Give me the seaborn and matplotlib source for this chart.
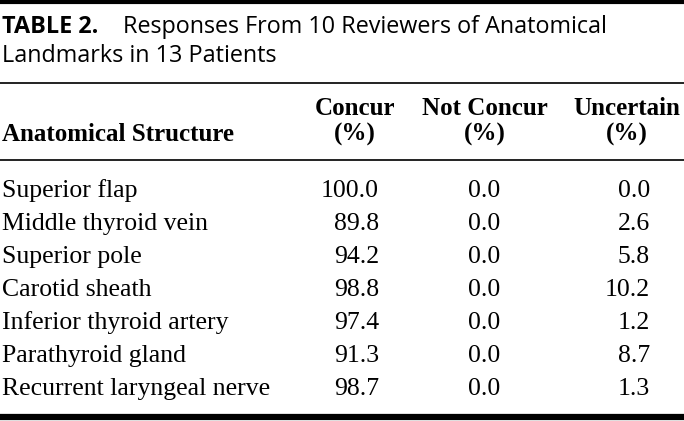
import matplotlib
matplotlib.use("Agg")
import matplotlib.pyplot as plt
import seaborn as sns

# table contents
title_label = "TABLE 2."
title_line1 = "Responses From 10 Reviewers of Anatomical"
title_line2 = "Landmarks in 13 Patients"

columns = ["Concur", "Not Concur", "Uncertain"]
structures = [
    "Superior flap",
    "Middle thyroid vein",
    "Superior pole",
    "Carotid sheath",
    "Inferior thyroid artery",
    "Parathyroid gland",
    "Recurrent laryngeal nerve",
]
concur = [100.0, 89.8, 94.2, 98.8, 97.4, 91.3, 98.7]
not_concur = [0.0, 0.0, 0.0, 0.0, 0.0, 0.0, 0.0]
uncertain = [0.0, 2.6, 5.8, 10.2, 1.2, 8.7, 1.3]

sns.set_theme(style="white")
plt.rcParams["font.family"] = ["Liberation Serif", "DejaVu Serif"]
plt.rcParams["text.color"] = "black"

W, H = 684, 421
fig = plt.figure(figsize=(W / 100, H / 100), dpi=100)
ax = fig.add_axes([0, 0, 1, 1])
ax.set_xlim(0, W)
ax.set_ylim(H, 0)
ax.axis("off")

sans = ["Open Sans", "DejaVu Sans"]
title_fs = 16.8
head_fs = 18
body_fs = 18.5

# title
ax.text(2, 33, title_label, family=sans, fontsize=title_fs, fontweight="bold", va="baseline")
ax.text(123, 33, title_line1, family=sans, fontsize=title_fs, va="baseline")
ax.text(2, 62, title_line2, family=sans, fontsize=title_fs, va="baseline")

# rules
ax.axhline(2, color="black", lw=3.0)
ax.axhline(83, color="#222222", lw=1.4)
ax.axhline(160, color="#222222", lw=1.4)
ax.axhline(417, color="black", lw=4.5)

# header
head_x = [355, 485, 627]
ax.text(2, 141, "Anatomical Structure", fontsize=head_fs, fontweight="bold", va="baseline")
for x, name in zip(head_x, columns):
    ax.text(x, 115, name, fontsize=head_fs, fontweight="bold", ha="center", va="baseline")
    ax.text(x, 141, "(%)", fontsize=head_fs, fontweight="bold", ha="center", va="baseline")

# body rows
num_right = [379, 500, 650]
row0, step = 197, 33
for i, name in enumerate(structures):
    y = row0 + i * step
    ax.text(2, y, name, fontsize=body_fs, va="baseline")
    for x, vals in zip(num_right, [concur, not_concur, uncertain]):
        ax.text(x, y, f"{vals[i]:.1f}", fontsize=body_fs, ha="right", va="baseline")

fig.savefig("out.png", dpi=100)
